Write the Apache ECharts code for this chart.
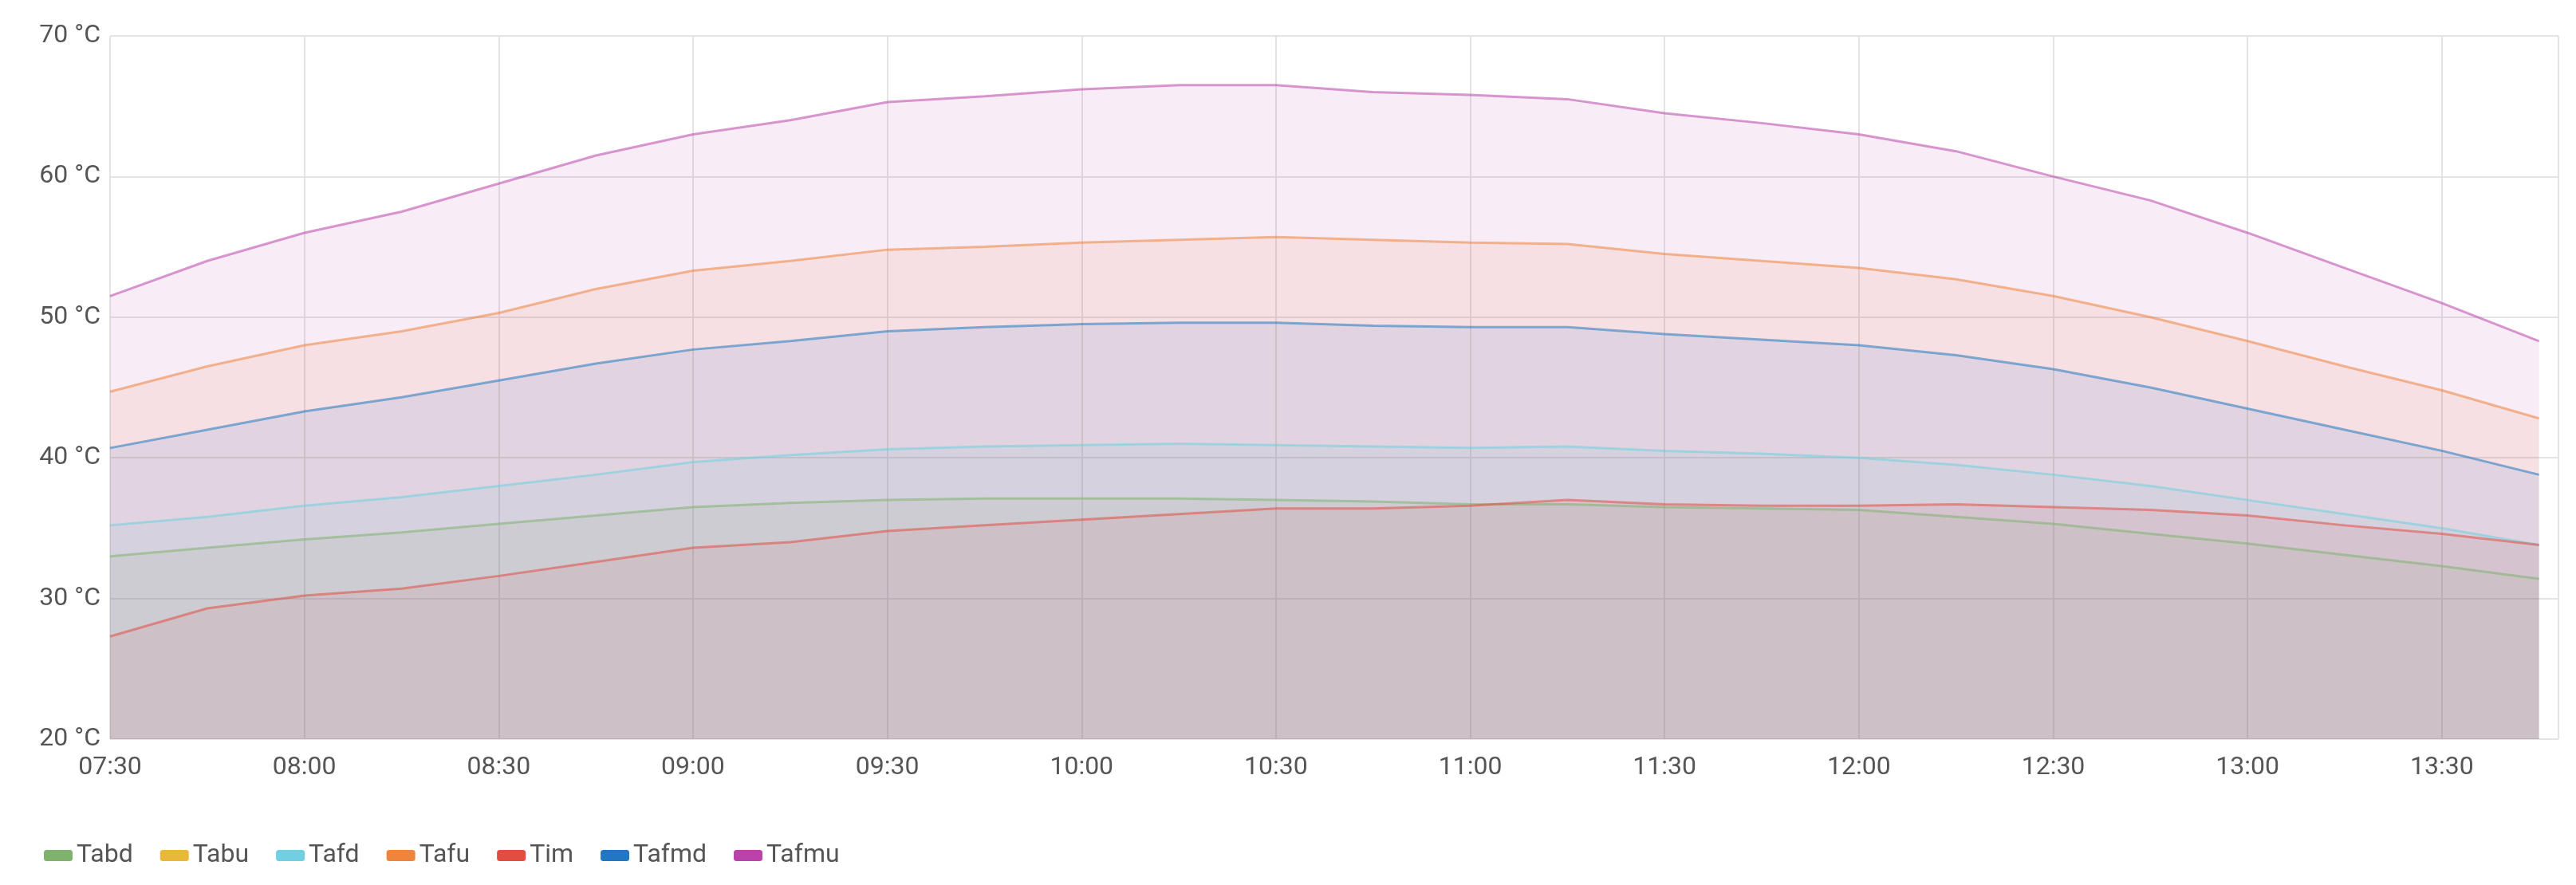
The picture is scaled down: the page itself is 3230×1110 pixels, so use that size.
<!DOCTYPE html>
<html>
<head>
<meta charset="utf-8">
<script src="https://cdn.jsdelivr.net/npm/echarts@6/dist/echarts.min.js"></script>
<style>
  html, body { margin: 0; padding: 0; background: #fff; }
  #chart { width: 3230px; height: 1110px; }
</style>
</head>
<body>
<div id="chart"></div>
<script>
// minutes since midnight, 07:30 .. 13:45 every 15 min
var times = [450, 465, 480, 495, 510, 525, 540, 555, 570, 585, 600, 615, 630,
             645, 660, 675, 690, 705, 720, 735, 750, 765, 780, 795, 810, 825];

var tabd  = [33, 33.6, 34.2, 34.7, 35.3, 35.9, 36.5, 36.8, 37, 37.1, 37.1, 37.1, 37,
             36.9, 36.7, 36.7, 36.5, 36.4, 36.3, 35.8, 35.3, 34.6, 33.9, 33.1, 32.3, 31.4];
var tabu  = [];
var tafd  = [35.2, 35.8, 36.6, 37.2, 38, 38.8, 39.7, 40.2, 40.6, 40.8, 40.9, 41, 40.9,
             40.8, 40.7, 40.8, 40.5, 40.3, 40, 39.5, 38.8, 38, 37, 36, 35, 33.8];
var tafu  = [44.7, 46.5, 48, 49, 50.3, 52, 53.3, 54, 54.8, 55, 55.3, 55.5, 55.7,
             55.5, 55.3, 55.2, 54.5, 54, 53.5, 52.7, 51.5, 50, 48.3, 46.5, 44.8, 42.8];
var tim   = [27.3, 29.3, 30.2, 30.7, 31.6, 32.6, 33.6, 34, 34.8, 35.2, 35.6, 36, 36.4,
             36.4, 36.6, 37, 36.7, 36.6, 36.6, 36.7, 36.5, 36.3, 35.9, 35.2, 34.6, 33.8];
var tafmd = [40.7, 42, 43.3, 44.3, 45.5, 46.7, 47.7, 48.3, 49, 49.3, 49.5, 49.6, 49.6,
             49.4, 49.3, 49.3, 48.8, 48.4, 48, 47.3, 46.3, 45, 43.5, 42, 40.5, 38.8];
var tafmu = [51.5, 54, 56, 57.5, 59.5, 61.5, 63, 64, 65.3, 65.7, 66.2, 66.5, 66.5,
             66, 65.8, 65.5, 64.5, 63.8, 63, 61.8, 60, 58.3, 56, 53.5, 51, 48.3];

var names  = ['Tabd', 'Tabu', 'Tafd', 'Tafu', 'Tim', 'Tafmd', 'Tafmu'];
var values = [tabd, tabu, tafd, tafu, tim, tafmd, tafmu];
var colors = ['#7EB26D', '#EAB839', '#6ED0E0', '#EF843C', '#E24D42', '#1F78C1', '#BA43A9'];

function pad(n) { return n < 10 ? '0' + n : '' + n }

var series = names.map(function (n, i) {
    return {
        name: n,
        type: 'line',
        showSymbol: false,
        color: colors[i],
        lineStyle: { width: 3, opacity: 0.55 },
        areaStyle: { opacity: 0.1 },
        data: values[i].map(function (v, k) { return [times[k], v] })
    }
})

var chart = echarts.init(document.getElementById('chart'))
chart.setOption({
    animation: false,
    grid: { left: 138, right: 22, top: 45, bottom: 183 },
    legend: {
        left: 50, bottom: 16,
        icon: 'roundRect', itemWidth: 36, itemHeight: 14, itemGap: 34,
        textStyle: { fontFamily: 'Roboto', fontSize: 32, color: '#555' },
        data: names
    },
    xAxis: {
        type: 'value', min: 450, max: 828, interval: 30,
        axisLine: { show: false }, axisTick: { show: false },
        splitLine: { show: true, lineStyle: { color: '#e4e4e4', width: 2 } },
        axisLabel: {
            showMaxLabel: false, margin: 20,
            fontFamily: 'Roboto', fontSize: 32, color: '#555',
            formatter: function (v) { return pad(Math.floor(v / 60)) + ':' + pad(v % 60) }
        }
    },
    yAxis: {
        type: 'value', min: 20, max: 70, interval: 10,
        axisLine: { show: false }, axisTick: { show: false },
        splitLine: { lineStyle: { color: '#e4e4e4', width: 2 } },
        axisLabel: { fontFamily: 'Roboto', fontSize: 32, color: '#555', margin: 12, formatter: '{value} °C' }
    },
    series: series
})
</script>
</body>
</html>
